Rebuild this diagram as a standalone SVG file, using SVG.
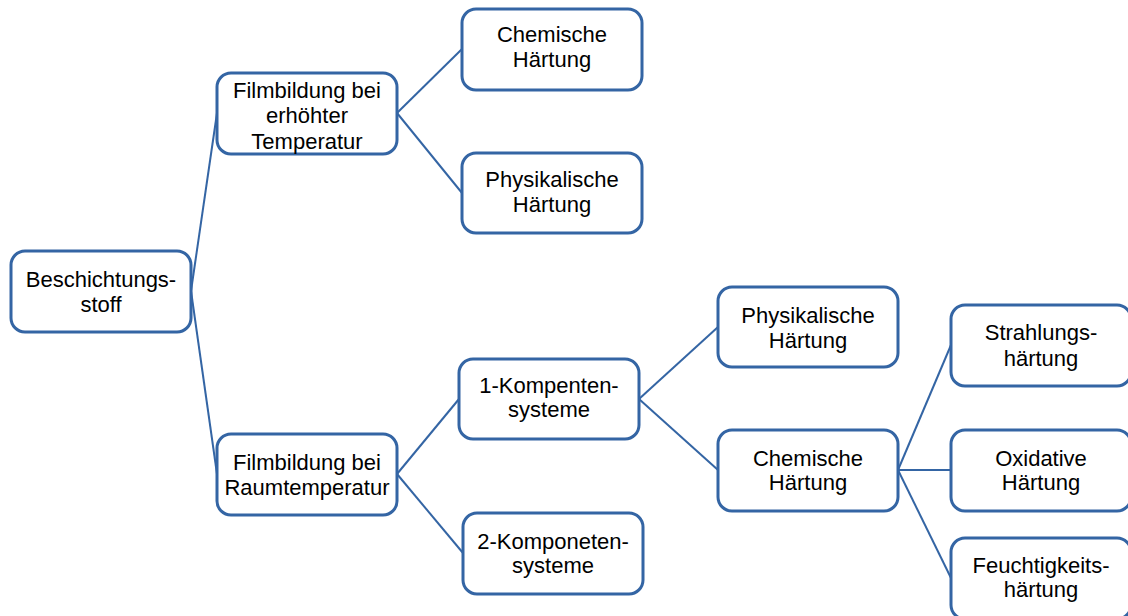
<svg xmlns="http://www.w3.org/2000/svg" width="1128" height="616" viewBox="0 0 1128 616">
<style>
.box{fill:#fff;stroke:#3465a4;stroke-width:3}
.ln{stroke:#3465a4;stroke-width:2;fill:none}
text{font-family:"Liberation Sans",Arial,sans-serif;font-size:22px;fill:#000;text-anchor:middle}
</style>
<rect width="1128" height="616" fill="#fff"/>
<g id="connectors">
<line class="ln" x1="191" y1="291" x2="217" y2="113"/>
<line class="ln" x1="191" y1="291" x2="217" y2="474"/>
<line class="ln" x1="397" y1="113" x2="462" y2="49"/>
<line class="ln" x1="397" y1="113" x2="462" y2="193"/>
<line class="ln" x1="397" y1="474" x2="459" y2="399"/>
<line class="ln" x1="397" y1="474" x2="463" y2="553"/>
<line class="ln" x1="639" y1="399" x2="718" y2="327"/>
<line class="ln" x1="639" y1="399" x2="718" y2="470"/>
<line class="ln" x1="898" y1="470" x2="951" y2="345"/>
<line class="ln" x1="898" y1="470" x2="951" y2="470"/>
<line class="ln" x1="898" y1="470" x2="951" y2="578"/>
</g>
<g id="n-beschichtungsstoff"><rect class="box" x="11" y="251" width="180" height="81" rx="14"/><text x="101" y="287">Beschichtungs-</text><text x="101" y="312">stoff</text></g>
<g id="n-erhoeht"><rect class="box" x="217" y="73" width="180" height="81" rx="14"/><text x="307" y="98">Filmbildung bei</text><text x="307" y="123">erhöhter</text><text x="307" y="149">Temperatur</text></g>
<g id="n-chem1"><rect class="box" x="462" y="9" width="180" height="81" rx="14"/><text x="552" y="42">Chemische</text><text x="552" y="67">Härtung</text></g>
<g id="n-phys1"><rect class="box" x="462" y="153" width="180" height="80" rx="14"/><text x="552" y="187">Physikalische</text><text x="552" y="212">Härtung</text></g>
<g id="n-raum"><rect class="box" x="217" y="434" width="180" height="81" rx="14"/><text x="307" y="470">Filmbildung bei</text><text x="307" y="495">Raumtemperatur</text></g>
<g id="n-1k"><rect class="box" x="459" y="359" width="180" height="80" rx="14"/><text x="549" y="393">1-Kompenten-</text><text x="549" y="417">systeme</text></g>
<g id="n-2k"><rect class="box" x="463" y="513" width="180" height="81" rx="14"/><text x="553" y="549">2-Komponeten-</text><text x="553" y="573">systeme</text></g>
<g id="n-phys2"><rect class="box" x="718" y="287" width="180" height="80" rx="14"/><text x="808" y="323">Physikalische</text><text x="808" y="348">Härtung</text></g>
<g id="n-chem2"><rect class="box" x="718" y="430" width="180" height="81" rx="14"/><text x="808" y="466">Chemische</text><text x="808" y="490">Härtung</text></g>
<g id="n-strahl"><rect class="box" x="951" y="305" width="180" height="81" rx="14"/><text x="1041" y="340">Strahlungs-</text><text x="1041" y="366">härtung</text></g>
<g id="n-oxid"><rect class="box" x="951" y="430" width="180" height="81" rx="14"/><text x="1041" y="466">Oxidative</text><text x="1041" y="490">Härtung</text></g>
<g id="n-feucht"><rect class="box" x="951" y="538" width="180" height="81" rx="14"/><text x="1041" y="573">Feuchtigkeits-</text><text x="1041" y="597">härtung</text></g>
</svg>
